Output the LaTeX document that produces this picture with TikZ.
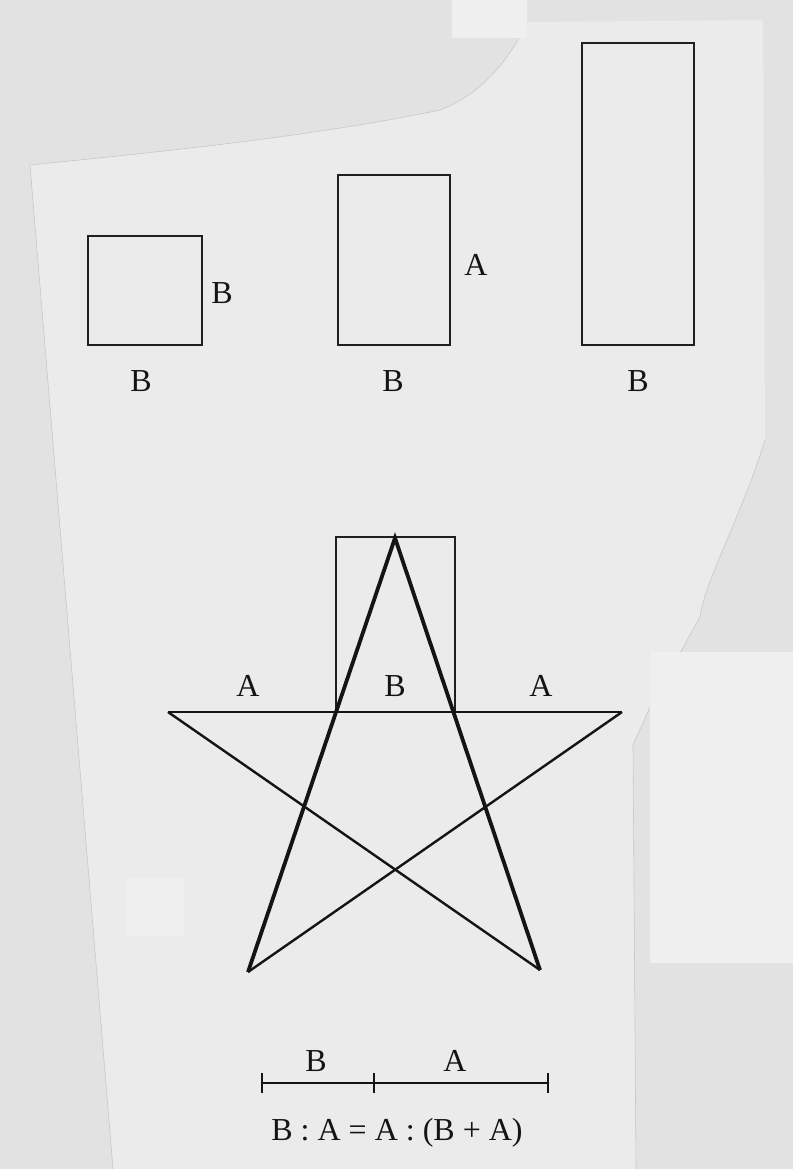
\documentclass[tikz,border=0pt]{standalone}
\usepackage{fontspec}
\setmainfont{Liberation Serif}
\usetikzlibrary{calc}
\definecolor{outerbg}{HTML}{E2E2E2}
\definecolor{paper}{HTML}{EBEBEB}
\definecolor{patch}{HTML}{EFEFEF}
\definecolor{edge}{HTML}{C8C8C8}
\tikzset{
  box/.style={draw=black!88, line width=1.9pt},
  thin/.style={draw=black!92, line width=2.4pt},
  thick/.style={draw=black!92, line width=3.8pt},
  lab/.style={font=\fontsize{32}{32}\selectfont, inner sep=0pt, text=black!92},
  seg/.style={draw=black!92, line width=2.6pt},
}
\begin{document}
\begin{tikzpicture}[x=1pt,y=-1pt]
\useasboundingbox (0,0) rectangle (793,1169);
\fill[outerbg] (0,0) rectangle (793,1169);
% lighter paper piece
\fill[paper] (527,22) -- (763,20) -- (765,440) .. controls (740,520) and (705,580) .. (700,617)
  -- (650,707) -- (633,745) -- (636,1169) -- (113,1169) -- (30,165)
  .. controls (180,150) and (320,135) .. (440,110) .. controls (480,95) and (510,60) .. (527,22) -- cycle;
\draw[edge, line width=0.6pt] (527,22) .. controls (510,60) and (480,95) .. (440,110) .. controls (320,135) and (180,150) .. (30,165);
\draw[edge, line width=0.6pt] (765,440) .. controls (740,520) and (705,580) .. (700,617) -- (650,707) -- (633,745) -- (636,1169);
\draw[edge, line width=0.6pt] (30,165) -- (113,1169);
% light patches
\fill[patch] (452,0) rectangle (527,38);
\fill[patch] (650,652) rectangle (793,963);
\fill[patch] (127,877) rectangle (184,936);

% top rectangles
\node[box, minimum width=114pt, minimum height=109pt, inner sep=0pt] (sq) at (145,290.5) {};
\node[box, minimum width=112pt, minimum height=170pt, inner sep=0pt] (mid) at (394,260) {};
\node[box, minimum width=112pt, minimum height=302pt, inner sep=0pt] (tall) at (638,194) {};
\node[lab] (sqB1) at (222,293) {B};
\node[lab] (sqB2) at (141,381) {B};
\node[lab] (midA) at (476,265) {A};
\node[lab] (midB) at (393,381) {B};
\node[lab] (tallB) at (638,381) {B};

% star
\coordinate (top) at (395,538);
\coordinate (L) at (168,712);
\coordinate (R) at (622,712);
\coordinate (BL) at (248,972);
\coordinate (BR) at (540,970);
\node[box, minimum width=119pt, minimum height=175pt, inner sep=0pt] (gold) at (395.5,624.5) {};
\draw[thin] (L) -- (R);
\draw[thin] (L) -- (BR);
\draw[thin] (R) -- (BL);
\draw[thick, line join=miter] (BL) -- (top) -- (BR);
\node[lab] (sA1) at (248,686) {A};
\node[lab] (sB) at (395,686) {B};
\node[lab] (sA2) at (541,686) {A};

% segment
\coordinate (s0) at (262,1083);
\coordinate (s1) at (374,1083);
\coordinate (s2) at (548,1083);
\draw[seg] (s0) -- (s2);
\draw[seg] ($(s0)+(0,-10)$) -- ($(s0)+(0,10)$);
\draw[seg] ($(s1)+(0,-10)$) -- ($(s1)+(0,10)$);
\draw[seg] ($(s2)+(0,-10)$) -- ($(s2)+(0,10)$);
\node[lab] (segB) at (316,1061) {B};
\node[lab] (segA) at (455,1061) {A};
\node[lab] (eq) at (397,1133) {B : A = A : (B + A)};
\end{tikzpicture}
\end{document}
